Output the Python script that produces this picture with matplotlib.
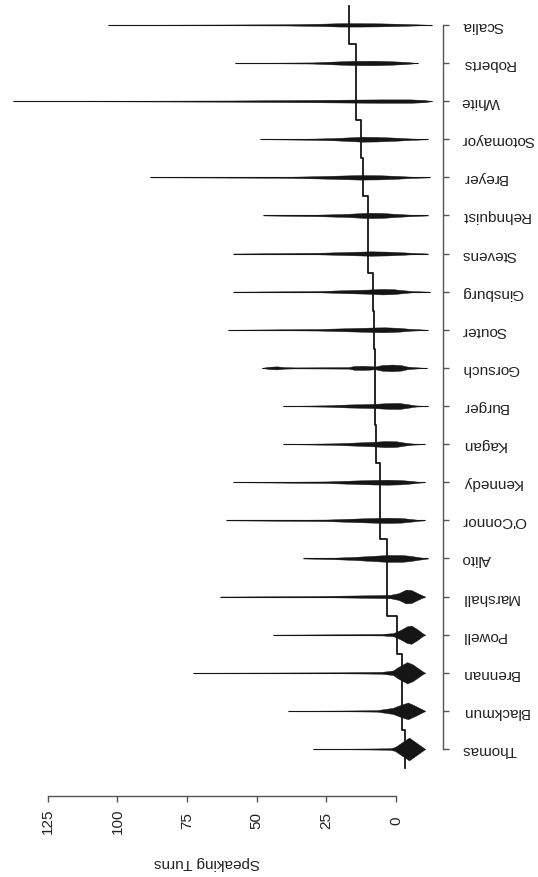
import matplotlib
matplotlib.use("Agg")
import matplotlib.pyplot as plt

plt.rcParams['font.family'] = ['Liberation Sans', 'DejaVu Sans']

# justices, bottom to top
justices = ["Thomas", "Blackmun", "Brennan", "Powell", "Marshall", "Alito",
            "O'Connor", "Kennedy", "Kagan", "Burger", "Gorsuch", "Souter",
            "Ginsburg", "Stevens", "Rehnquist", "Breyer", "Sotomayor",
            "White", "Roberts", "Scalia"]

medians = [-3.2, -2.2, -2.2, -0.4, 3.2, 3.2, 5.7, 5.7, 7.2, 7.5,
           7.5, 7.9, 8.3, 10.1, 10.1, 11.8, 12.6, 14.4, 14.4, 16.9]

# density outline: value points and half widths
dens_vals = [
    [29.8, 10, 2, 0.4, -4.7, -9.7, -10.4],
    [38.8, 15, 6.8, 1.1, -1, -4.3, -7, -9.7, -10.4],
    [72.9, 20, 5, 1, -0.5, -4, -6, -9.5, -10.4],
    [44.1, 15, 5, 1, -1.5, -4, -5.5, -7.5, -9.7, -10.4],
    [63.2, 30, 18, 8, 2, -1, -3.5, -5.5, -8, -10.4],
    [33.4, 22, 15, 8, 3, -2, -5, -8, -11.5],
    [61.0, 25, 15, 8, 3, -2, -6, -8, -10.4],
    [58.5, 25, 15, 8, 3, -2, -6, -8, -10.4],
    [40.6, 22, 15, 8, 4, 0, -3, -6, -10.4],
    [40.6, 25, 17, 8, 3, -1, -4, -7, -11.5],
    [48.2, 45.5, 42.7, 40, 36, 17, 15, 12, 10, 7.5, 5, 1.2, -2, -4, -8, -11.1],
    [60.3, 28, 18, 8, 4, -1, -5, -11.5],
    [58.5, 28, 20, 10, 5, 1, -3, -6, -12.2],
    [58.5, 28, 18, 9, 3, -3, -6, -11.5],
    [47.7, 28, 18, 10, 5, 0, -5, -11.5],
    [88.3, 40, 28, 13, 6, -1, -5, -12.2],
    [48.8, 30, 22, 12, 7, 0, -5, -11.5],
    [137.5, 60, 30, 15, 5, -5, -10, -12.9],
    [57.8, 30, 25, 16, 8, 3, -3, -7.9],
    [103.4, 40, 27, 20, 13, 6, 0, -6, -12.9],
]
dens_width = [
    [0, 0.012, 0.02, 0.05, 0.30, 0.04, 0],
    [0, 0.012, 0.02, 0.08, 0.14, 0.22, 0.13, 0.03, 0],
    [0, 0.012, 0.025, 0.06, 0.14, 0.28, 0.22, 0.04, 0],
    [0, 0.012, 0.02, 0.04, 0.12, 0.22, 0.24, 0.15, 0.03, 0],
    [0, 0.012, 0.025, 0.035, 0.045, 0.09, 0.18, 0.17, 0.08, 0],
    [0, 0.02, 0.04, 0.07, 0.09, 0.09, 0.07, 0.035, 0],
    [0, 0.02, 0.045, 0.062, 0.07, 0.06, 0.03, 0.012, 0],
    [0, 0.02, 0.045, 0.06, 0.066, 0.055, 0.03, 0.012, 0],
    [0, 0.02, 0.04, 0.06, 0.08, 0.075, 0.04, 0.015, 0],
    [0, 0.018, 0.04, 0.055, 0.075, 0.08, 0.05, 0.015, 0],
    [0, 0.03, 0.04, 0.02, 0.012, 0.02, 0.05, 0.055, 0.05, 0.035, 0.075, 0.087, 0.07, 0.035, 0.012, 0],
    [0, 0.02, 0.04, 0.06, 0.065, 0.05, 0.025, 0],
    [0, 0.015, 0.035, 0.055, 0.073, 0.065, 0.035, 0.015, 0],
    [0, 0.02, 0.04, 0.058, 0.05, 0.03, 0.018, 0],
    [0, 0.02, 0.04, 0.07, 0.065, 0.04, 0.02, 0],
    [0, 0.012, 0.03, 0.06, 0.055, 0.035, 0.018, 0],
    [0, 0.015, 0.03, 0.065, 0.06, 0.04, 0.02, 0],
    [0, 0.015, 0.03, 0.04, 0.045, 0.045, 0.03, 0],
    [0, 0.015, 0.03, 0.055, 0.06, 0.05, 0.03, 0],
    [0, 0.015, 0.03, 0.045, 0.045, 0.04, 0.03, 0.018, 0],
]

value_ticks = [0, 25, 50, 75, 100, 125]

W, H = 538, 878
fig = plt.figure(figsize=(W / 100, H / 100), dpi=100)
# axes box in pixels: left 5, right 436, top 3, bottom 775
ax = fig.add_axes([5 / W, 1 - 775 / H, 431 / W, 772 / H])

ink = "#151515"
pos = list(range(1, len(justices) + 1))

for i, y in enumerate(pos):
    vals = dens_vals[i]
    w = dens_width[i]
    ax.hlines(y, vals[-1], vals[0], color=ink, lw=0.8)
    lo = [y - a for a in w]
    hi = [y + a for a in w]
    ax.fill_between(vals, lo, hi, color=ink, lw=0.3, edgecolor=ink)

# median staircase
sx, sy = [], []
for i, y in enumerate(pos):
    sx += [medians[i], medians[i]]
    sy += [y - 0.5, y + 0.5]
ax.plot(sx, sy, color=ink, lw=1.3)

ax.set_xlim(140.34, -14.36)
ax.set_ylim(0.344, 20.60)

ax.spines['top'].set_visible(False)
ax.spines['left'].set_visible(False)
ax.spines['bottom'].set_bounds(0, 125)
ax.spines['bottom'].set_position(('outward', 15.8))
ax.spines['right'].set_bounds(1, 20)
ax.spines['right'].set_position(('outward', 5.0))
for s in ['bottom', 'right']:
    ax.spines[s].set_color('#555555')
    ax.spines[s].set_linewidth(1.0)

ax.set_xticks(value_ticks)
ax.set_xticklabels([str(v) for v in value_ticks], rotation=90, va='center')
ax.tick_params(axis='x', length=4.3, width=1.0, color='#555555',
               pad=13, labelsize=11, labelcolor='#222222')

ax.yaxis.tick_right()
ax.set_yticks(pos)
ax.set_yticklabels(justices, rotation=180, va='center', ha='left')
ax.tick_params(axis='y', length=4.3, width=1.0, color='#555555',
               pad=9, labelsize=11, labelcolor='#222222')

fig.text(207 / W, 1 - 863 / H, "Speaking Turns", rotation=180,
         ha='center', va='center', fontsize=11, color='#222222')

fig.savefig("out.png", dpi=100)
